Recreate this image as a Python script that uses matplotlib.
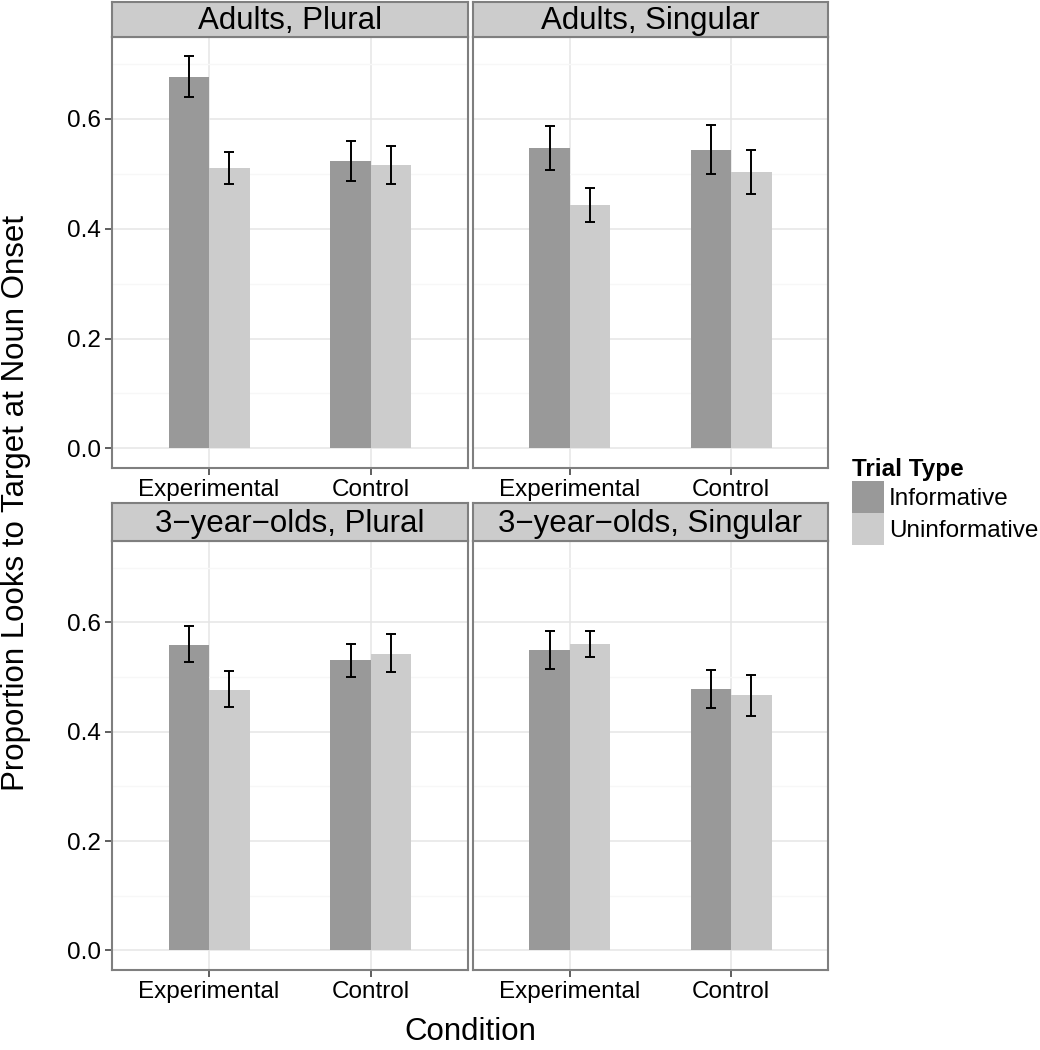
import matplotlib.pyplot as plt
from matplotlib.patches import Patch
import numpy as np

plt.rcParams['font.family'] = ['Liberation Sans', 'DejaVu Sans']

conditions = ['Experimental', 'Control']
trial_types = ['Informative', 'Uninformative']
panel_titles = ['Adults, Plural', 'Adults, Singular',
                '3\u2212year\u2212olds, Plural', '3\u2212year\u2212olds, Singular']

# means and error bar limits per panel, [Experimental, Control]
inf_mean = [[0.677, 0.524], [0.547, 0.543], [0.559, 0.531], [0.549, 0.479]]
inf_lo = [[0.639, 0.487], [0.506, 0.499], [0.527, 0.501], [0.514, 0.444]]
inf_hi = [[0.715, 0.560], [0.587, 0.589], [0.593, 0.560], [0.584, 0.513]]
uninf_mean = [[0.510, 0.516], [0.443, 0.503], [0.477, 0.543], [0.560, 0.467]]
uninf_lo = [[0.481, 0.482], [0.413, 0.463], [0.445, 0.509], [0.536, 0.428]]
uninf_hi = [[0.540, 0.551], [0.474, 0.544], [0.511, 0.578], [0.584, 0.504]]

W, H = 1040, 1050
DARK = '#999999'
LIGHT = '#CCCCCC'
BORDER = '#7F7F7F'


def box(x0, y0, x1, y1):
    return [x0 / W, 1 - y1 / H, (x1 - x0) / W, (y1 - y0) / H]


fig = plt.figure(figsize=(W / 100, H / 100), dpi=100)

cols = [(112, 468), (473, 828)]
rows = [(2, 37, 468), (503, 541, 970)]

x = np.arange(1, len(conditions) + 1)
bw = 0.25

for k in range(4):
    r, c = divmod(k, 2)
    x0, x1 = cols[c]
    s0, p0, p1 = rows[r]
    ax = fig.add_axes(box(x0, p0, x1, p1))
    sax = fig.add_axes(box(x0, s0, x1, p0))

    ax.bar(x - bw / 2, inf_mean[k], bw, color=DARK, zorder=2)
    ax.bar(x + bw / 2, uninf_mean[k], bw, color=LIGHT, zorder=2)
    for xs, m, lo, hi in [(x - bw / 2, inf_mean[k], inf_lo[k], inf_hi[k]),
                          (x + bw / 2, uninf_mean[k], uninf_lo[k], uninf_hi[k])]:
        m = np.array(m)
        err = [m - np.array(lo), np.array(hi) - m]
        ax.errorbar(xs, m, yerr=err, fmt='none', ecolor='black',
                    elinewidth=1.4, capsize=3.3, capthick=1.4, zorder=3)

    ax.set_xlim(0.4, 2.6)
    ax.set_ylim(-0.0357, 0.749)
    ax.set_yticks([0.0, 0.2, 0.4, 0.6])
    ax.set_yticks([0.1, 0.3, 0.5, 0.7], minor=True)
    ax.set_xticks(x)
    ax.set_xticklabels(conditions, fontsize=17.5)
    ax.grid(True, which='major', color='#E5E5E5', linewidth=1.1, zorder=0)
    ax.grid(True, which='minor', axis='y', color='#F7F7F7', linewidth=1.0, zorder=0)
    ax.set_axisbelow(True)
    ax.tick_params(axis='both', which='major', length=5, width=1.1,
                   color='#333333', labelsize=17.5, pad=3)
    ax.tick_params(axis='both', which='minor', length=0)
    if c == 0:
        ax.set_yticklabels(['0.0', '0.2', '0.4', '0.6'])
    else:
        ax.tick_params(axis='y', which='major', length=0, labelleft=False)
    for sp in ax.spines.values():
        sp.set_color(BORDER)
        sp.set_linewidth(1.5)

    sax.set_facecolor(LIGHT)
    sax.set_xticks([])
    sax.set_yticks([])
    for sp in sax.spines.values():
        sp.set_color(BORDER)
        sp.set_linewidth(1.5)
    sax.text(0.5, 0.45, panel_titles[k], ha='center', va='center',
             fontsize=22.5, transform=sax.transAxes)

fig.text(16 / W, 1 - 503 / H, 'Proportion Looks to Target at Noun Onset',
         rotation=90, ha='center', va='center', fontsize=22.5)
fig.text(470 / W, 1 - 1032 / H, 'Condition', ha='center', va='center',
         fontsize=22.5)

handles = [Patch(facecolor=DARK, edgecolor='none'),
           Patch(facecolor=LIGHT, edgecolor='none')]
leg = fig.legend(handles, trial_types, loc='upper left',
                 bbox_to_anchor=(852 / W, 1 - 458 / H), frameon=False,
                 title='Trial Type', fontsize=17.5, alignment='left',
                 handlelength=1.32, handleheight=1.65, labelspacing=0.0,
                 handletextpad=0.2, borderpad=0, borderaxespad=0)
leg.get_title().set_fontweight('bold')
leg.get_title().set_fontsize(17.5)

fig.savefig('out.png', dpi=100)
